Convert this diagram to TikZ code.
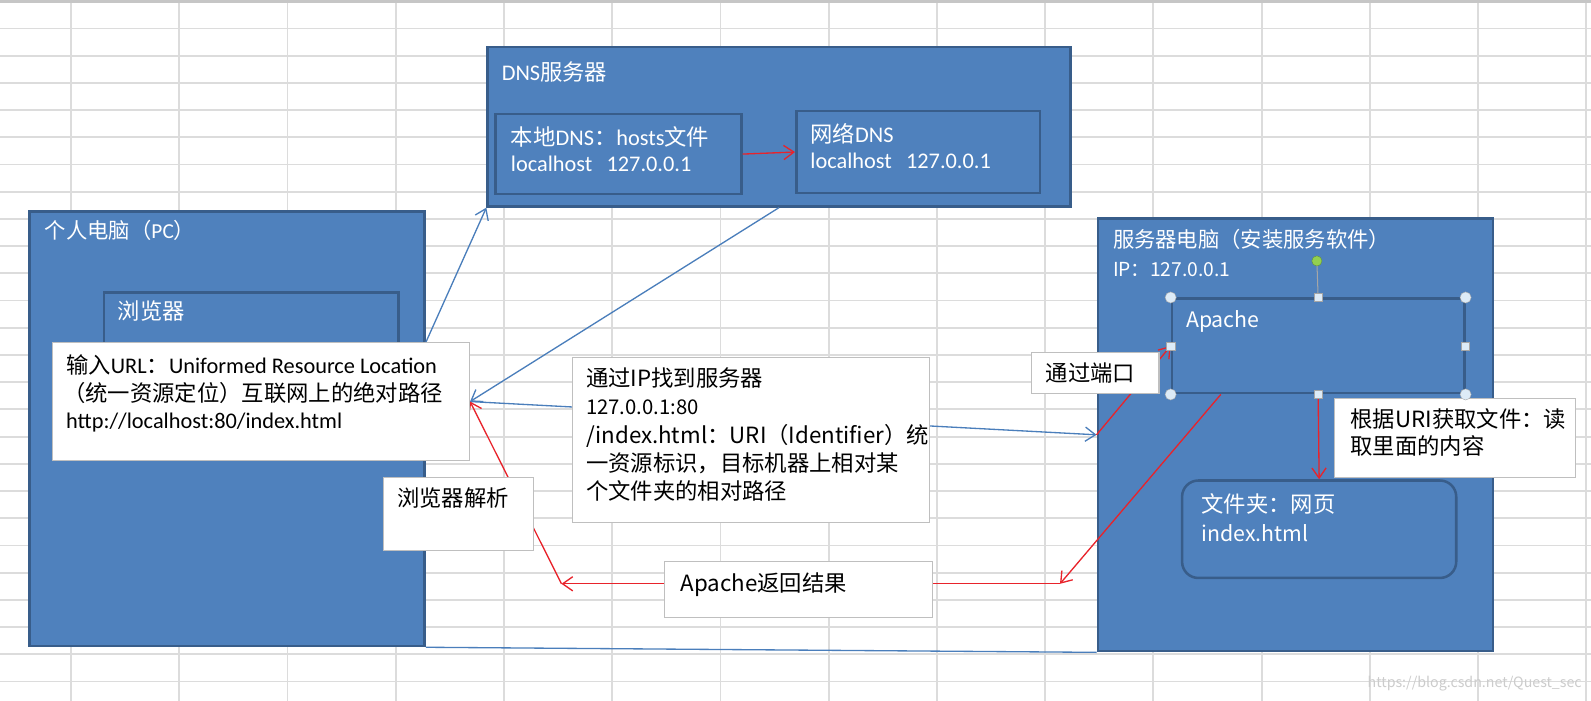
\documentclass[tikz,border=0pt]{standalone}
\usepackage{fontspec}
\setmainfont{Noto Sans CJK SC}
\newfontfamily\calfont{Carlito}
\usetikzlibrary{arrows.meta,calc}
\definecolor{boxfill}{HTML}{4F81BD}
\definecolor{boxline}{HTML}{385D8A}
\definecolor{notegray}{HTML}{BFBFBF}
\definecolor{gridgray}{HTML}{DCDCDC}
\definecolor{linkblue}{HTML}{4A7EBB}
\definecolor{linkred}{HTML}{E8232B}
\definecolor{gripfill}{HTML}{DDEBF7}
\definecolor{gripgreen}{HTML}{92D050}
\pgfdeclarelayer{links}
\pgfdeclarelayer{front}
\pgfsetlayers{main,links,front}

\begin{document}
\begin{tikzpicture}[x=1pt,y=-1pt]
\tikzstyle{bluebox}=[draw=boxline,fill=boxfill,line width=2.5pt,anchor=north west,inner sep=0pt]
\tikzstyle{notebox}=[draw=notegray,fill=white,line width=1pt,anchor=north west,inner sep=0pt]
\tikzstyle{wtext}=[text=white,anchor=base west,inner sep=0pt,font=\fontsize{22}{26}\selectfont]
\tikzstyle{btext}=[text=black,anchor=base west,inner sep=0pt,font=\fontsize{22}{26}\selectfont]
\tikzstyle{blueline}=[draw=linkblue,line width=1.3pt]
\tikzstyle{redline}=[draw=linkred,line width=1.3pt]
\tikzstyle{pointy}=[-{Straight Barb[length=10pt,width=14pt]}]
\tikzstyle{roundgrip}=[circle,draw=gray!70,fill=gripfill,inner sep=0pt,minimum size=11pt]
\tikzstyle{squaregrip}=[rectangle,draw=gray!70,fill=gripfill,inner sep=0pt,minimum size=8pt]
\useasboundingbox (0,0) rectangle (1567,690.4);
\fill[white] (0,0) rectangle (1567,690.4);
\foreach \i in {0,...,14}
  \draw[gridgray,line width=1.8pt] ({70+106.6*\i},3) -- ({70+106.6*\i},690.4);
\foreach \j in {0,...,24}
  \draw[gridgray,line width=1.8pt] (0,{28+26.8*\j}) -- (1567,{28+26.8*\j});
\fill[gray!45] (0,0) rectangle (1567,3);

\node[bluebox,minimum width=389pt,minimum height=428pt] (pc) at (28,207) {};
\node[bluebox,minimum width=290pt,minimum height=90pt] (browser) at (101,287) {};
\node[bluebox,minimum width=574pt,minimum height=157pt] (dns) at (479,45) {};
\node[bluebox,minimum width=242pt,minimum height=79pt] (localdns) at (487,111) {};
\node[bluebox,minimum width=240pt,minimum height=81pt] (netdns) at (783,108) {};
\node[bluebox,minimum width=389pt,minimum height=426pt] (server) at (1080,214) {};
\node[bluebox,minimum width=288pt,minimum height=93pt] (apache) at (1153,293) {};
\node[bluebox,rounded corners=16pt,minimum width=270pt,minimum height=96pt] (folder) at (1163,472) {};

\begin{pgfonlayer}{front}
\node[notebox,minimum width=411pt,minimum height=116pt] (url) at (51,337) {};
\node[notebox,minimum width=148pt,minimum height=72pt] (parse) at (377,470) {};
\node[notebox,minimum width=352pt,minimum height=162pt] (find) at (563,352) {};
\node[notebox,minimum width=264pt,minimum height=55pt] (result) at (654,553) {};
\node[notebox,minimum width=126pt,minimum height=40pt] (port) at (1015,347) {};
\node[notebox,minimum width=237pt,minimum height=78pt] (read) at (1314,392) {};
\end{pgfonlayer}

\begin{pgfonlayer}{links}
\coordinate (backhit) at (1044,575);
\coordinate (parsehit) at (553,575);
\draw[redline,pointy] (localdns.east) -- (netdns.west);
\draw[blueline,pointy] (url.north -| pc.east) -- (dns.south west);
\draw[blueline,pointy] (dns.south) -- (url.east);
\draw[blueline,pointy] (url.east) -- (server.west);
\draw[redline,pointy] (server.west) -- (apache.west);
\draw[redline,pointy] (apache.south) -- (folder.north);
\draw[redline,pointy] ($(apache.south west)!0.17!(apache.south east)$) -- (backhit);
\draw[redline] (backhit) -- (result.east |- backhit);
\draw[redline,pointy] (result.west |- backhit) -- (parsehit);
\draw[redline,pointy] (parsehit) -- (url.east);
\draw[blueline] (pc.south east) -- (server.south west);
\end{pgfonlayer}

\begin{pgfonlayer}{front}
\node[wtext,font=\fontsize{21}{26}\selectfont] (pctitle) at (44,235) {个人电脑（{\calfont PC}）};
\node[wtext] (browsertitle) at (116,315) {浏览器};
\node[wtext] (dnstitle) at (494,79) {{\calfont DNS}服务器};
\node[wtext] (localtext) at (503,143) {本地{\calfont DNS}：{\calfont hosts}文件};
\node[wtext] (localip) at (503,169) {\calfont localhost\hspace{14pt}127.0.0.1};
\node[wtext] (nettext) at (798,140) {网络{\calfont DNS}};
\node[wtext] (netip) at (798,166) {\calfont localhost\hspace{14pt}127.0.0.1};
\node[wtext,font=\fontsize{21}{26}\selectfont] (servertitle) at (1096,244) {服务器电脑（安装服务软件）};
\node[wtext,font=\fontsize{19}{24}\selectfont] (serverip) at (1096,272) {IP：127.0.0.1};
\node[wtext,font=\fontsize{21}{26}\selectfont] (apachetext) at (1168,323) {Apache};
\node[wtext] (foldertext) at (1183,505) {文件夹：网页};
\node[wtext,font=\fontsize{21}{26}\selectfont] (folderfile) at (1183,533) {index.html};

\node[btext] (urlline1) at (65,368) {输入{\calfont URL}：{\calfont Uniformed Resource Location}};
\node[btext] (urlline2) at (62,395) {（统一资源定位）互联网上的绝对路径};
\node[btext] (urlline3) at (65,422) {\calfont http://localhost:80/index.html};
\node[btext] (parsetext) at (391,499) {浏览器解析};
\node[btext] (findline1) at (577,381) {通过IP找到服务器};
\node[btext,font=\fontsize{20}{24}\selectfont] (findline2) at (577,408) {127.0.0.1:80};
\node[btext] (findline3) at (577,437) {/index.html：URI（Identifier）统};
\node[btext] (findline4) at (577,464) {一资源标识，目标机器上相对某};
\node[btext] (findline5) at (577,492) {个文件夹的相对路径};
\node[btext] (resulttext) at (670,583) {Apache返回结果};
\node[btext] (porttext) at (1030,376) {通过端口};
\node[btext] (readline1) at (1330,421) {根据URI获取文件：读};
\node[btext] (readline2) at (1330,448) {取里面的内容};

\draw[gray!70,line width=1pt] (apache.north) -- (1297,257);
\node[circle,draw=gripgreen!70!black,fill=gripgreen,inner sep=0pt,minimum size=10pt] (rotgrip) at (1297,257) {};
\node[roundgrip] (gripnw) at (apache.north west) {};
\node[roundgrip] (gripne) at (apache.north east) {};
\node[roundgrip] (gripsw) at (apache.south west) {};
\node[roundgrip] (gripse) at (apache.south east) {};
\node[squaregrip] (gripn) at (apache.north) {};
\node[squaregrip] (grips) at (apache.south) {};
\node[squaregrip] (gripw) at (apache.west) {};
\node[squaregrip] (gripe) at (apache.east) {};

\node[text=gray!40,anchor=base east,inner sep=0pt,font=\fontsize{14}{16}\selectfont] (mark) at (1558,677) {https://blog.csdn.net/Quest\_sec};
\end{pgfonlayer}
\end{tikzpicture}
\end{document}
